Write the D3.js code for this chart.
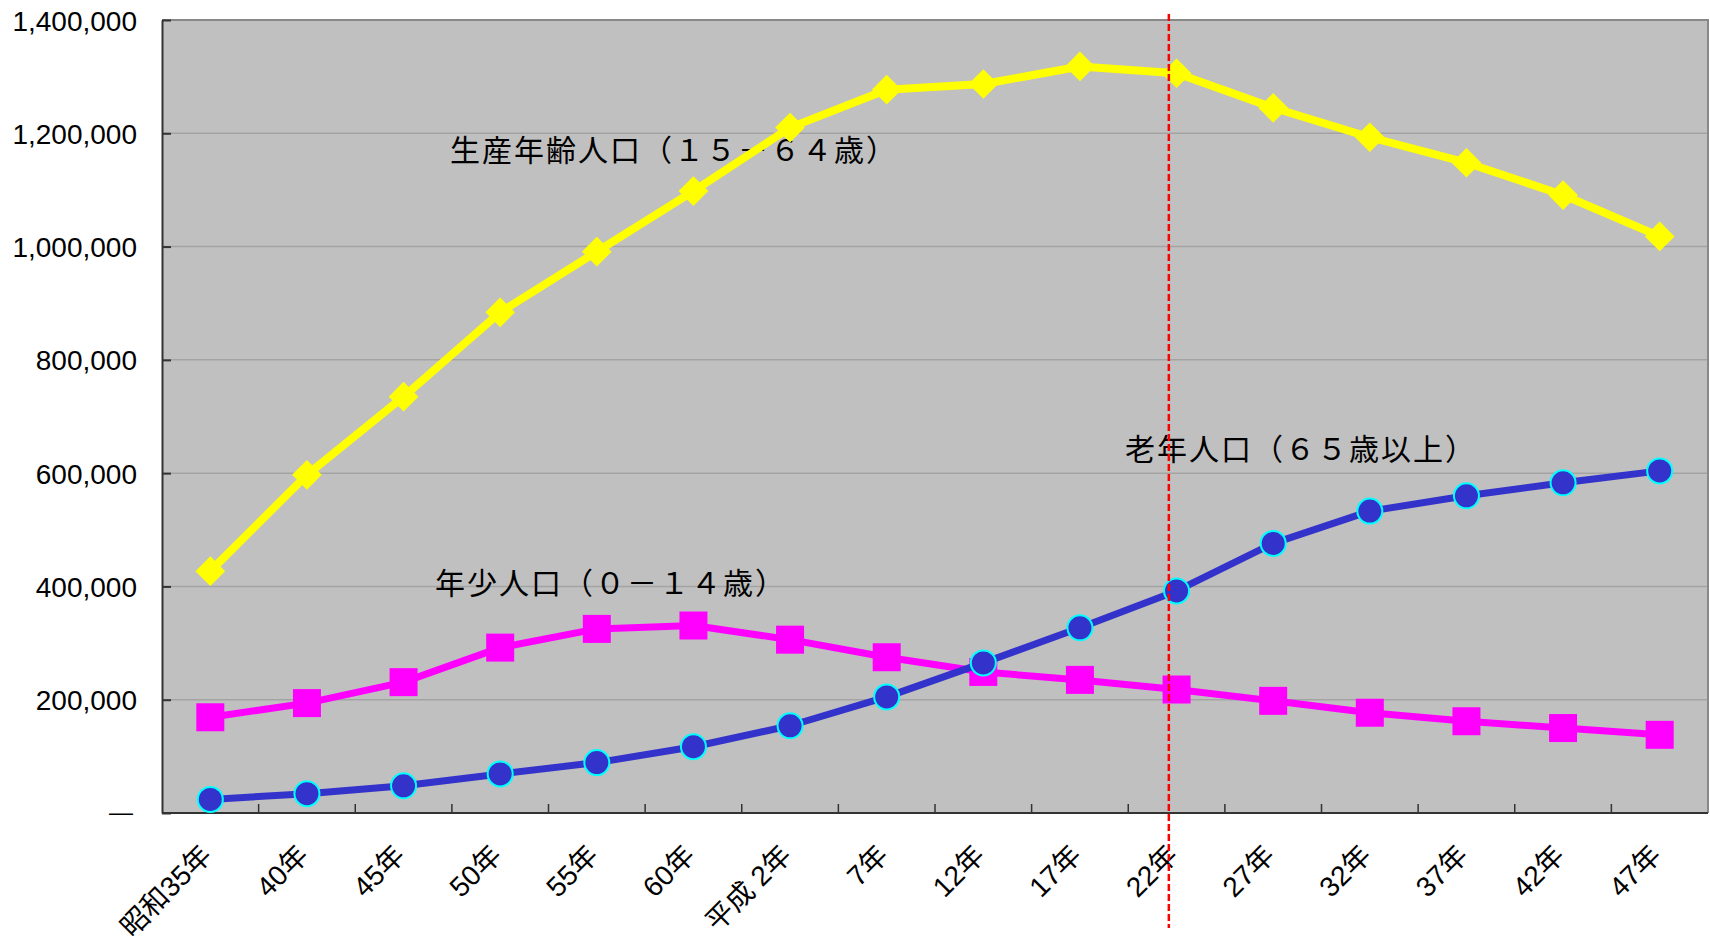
<!DOCTYPE html>
<html lang="ja">
<head>
<meta charset="utf-8">
<script src="https://cdn.jsdelivr.net/npm/d3@7"></script>
<style>
  html, body { margin: 0; padding: 0; background: #ffffff; }
  svg { display: block; }
  text { font-family: "Liberation Sans", "Noto Sans CJK JP", sans-serif; fill: #000; }
  .note { font-family: "Noto Sans CJK JP", sans-serif; font-size: 30px; letter-spacing: 2px; }
</style>
</head>
<body>
<svg id="chart" width="1710" height="940"></svg>
<script>
// Population by age group (persons), survey years 昭和35年 to 47年 (projection)
const categories = ["昭和35年", "40年", "45年", "50年", "55年", "60年", "平成 2年", "7年",
                    "12年", "17年", "22年", "27年", "32年", "37年", "42年", "47年"];
const workingAge = [427000, 597000, 735000, 884000, 991000, 1098000, 1210000, 1277000,
                    1287000, 1318000, 1306000, 1245000, 1193000, 1148000, 1091000, 1018000];
const youth      = [169000, 194000, 231000, 292000, 325000, 331000, 306000, 275000,
                    249000, 235000, 218000, 198000, 177000, 162000, 150000, 138000];
const elderly    = [24000, 34000, 48000, 69000, 89000, 117000, 154000, 205000,
                    265000, 327000, 392000, 476000, 533000, 560000, 583000, 604000];
const yTicks = [0, 200000, 400000, 600000, 800000, 1000000, 1200000, 1400000];
const seriesNames = ["生産年齢人口（１５－６４歳）", "年少人口（０－１４歳）", "老年人口（６５歳以上）"];
const dividerCategory = "22年";

const svg = d3.select("#chart");
const plot = { left: 162, right: 1708, top: 20, bottom: 813 };

const x = d3.scaleBand().domain(categories).range([plot.left, plot.right]).padding(0);
const y = d3.scaleLinear().domain([0, 1400000]).range([plot.bottom, plot.top]);
const cx = c => x(c) + x.bandwidth() / 2;

// plot background
svg.append("rect")
  .attr("x", plot.left).attr("y", plot.top)
  .attr("width", plot.right - plot.left).attr("height", plot.bottom - plot.top)
  .attr("fill", "#c0c0c0");

// horizontal gridlines
svg.append("g").selectAll("line")
  .data(yTicks.filter(v => v > 0 && v < 1400000))
  .join("line")
  .attr("x1", plot.left).attr("x2", plot.right)
  .attr("y1", d => y(d)).attr("y2", d => y(d))
  .attr("stroke", "#a3a3a3").attr("stroke-width", 1.5);

// top and right frame
svg.append("path")
  .attr("d", `M${plot.left},${plot.top}H${plot.right}V${plot.bottom}`)
  .attr("fill", "none").attr("stroke", "#888").attr("stroke-width", 2);

// y axis
const yAxis = d3.axisLeft(y)
  .tickValues(yTicks)
  .tickSizeInner(-9).tickSizeOuter(0).tickPadding(25)
  .tickFormat(d => d === 0 ? "—" : d3.format(",")(d));
const gy = svg.append("g").attr("transform", `translate(${plot.left},0)`).call(yAxis);
gy.select(".domain").attr("stroke", "#333").attr("stroke-width", 2);
gy.selectAll(".tick line").attr("stroke", "#333").attr("stroke-width", 2);
gy.selectAll(".tick text")
  .attr("font-family", "Liberation Sans, sans-serif")
  .attr("font-size", 28).attr("fill", "#000").attr("dy", "0.36em");
gy.selectAll(".tick text").filter(d => d === 0)
  .attr("font-size", 24).attr("dy", "0.27em").attr("x", -29);

// x axis line and tick marks at category boundaries
svg.append("line")
  .attr("x1", plot.left).attr("x2", plot.right)
  .attr("y1", plot.bottom).attr("y2", plot.bottom)
  .attr("stroke", "#333").attr("stroke-width", 2);
svg.append("g").selectAll("line")
  .data(categories.slice(1))
  .join("line")
  .attr("x1", d => x(d)).attr("x2", d => x(d))
  .attr("y1", plot.bottom).attr("y2", plot.bottom - 9)
  .attr("stroke", "#333").attr("stroke-width", 1.5);

// rotated category labels
svg.append("g").selectAll("text")
  .data(categories)
  .join("text")
  .attr("transform", d => `translate(${cx(d) + 3},${857}) rotate(-45)`)
  .attr("text-anchor", "end")
  .attr("font-size", 28)
  .text(d => d);

// series annotations
svg.append("text").attr("class", "note").attr("x", 450).attr("y", 161).text(seriesNames[0]);
svg.append("text").attr("class", "note").attr("x", 435).attr("y", 594).text(seriesNames[1]);
svg.append("text").attr("class", "note").attr("x", 1125).attr("y", 460).text(seriesNames[2]);

const line = d3.line().x((d, i) => cx(categories[i])).y(d => y(d));

// 年少人口: magenta squares
svg.append("path").datum(youth)
  .attr("d", line).attr("fill", "none")
  .attr("stroke", "#ff00ff").attr("stroke-width", 7).attr("stroke-linejoin", "round");
svg.append("g").selectAll("path")
  .data(youth).join("path")
  .attr("d", d3.symbol(d3.symbolSquare, 28 * 28))
  .attr("transform", (d, i) => `translate(${cx(categories[i])},${y(d)})`)
  .attr("fill", "#ff00ff");

// 老年人口: blue circles with cyan outline
svg.append("path").datum(elderly)
  .attr("d", line).attr("fill", "none")
  .attr("stroke", "#3333cc").attr("stroke-width", 7).attr("stroke-linejoin", "round");
svg.append("g").selectAll("circle")
  .data(elderly).join("circle")
  .attr("cx", (d, i) => cx(categories[i])).attr("cy", d => y(d))
  .attr("r", 12.5)
  .attr("fill", "#3333cc").attr("stroke", "#00ffff").attr("stroke-width", 2);

// 生産年齢人口: yellow diamonds
svg.append("path").datum(workingAge)
  .attr("d", line).attr("fill", "none")
  .attr("stroke", "#ffff00").attr("stroke-width", 8).attr("stroke-linejoin", "round");
svg.append("g").selectAll("path")
  .data(workingAge).join("path")
  .attr("d", d3.symbol(d3.symbolSquare, 21 * 21))
  .attr("transform", (d, i) => `translate(${cx(categories[i])},${y(d)}) rotate(45)`)
  .attr("fill", "#ffff00");

// dashed divider between actual and projected figures
const dividerX = x(dividerCategory) + x.bandwidth() * 0.42;
svg.append("line")
  .attr("x1", dividerX).attr("x2", dividerX)
  .attr("y1", 14).attr("y2", 928)
  .attr("stroke", "#ff0000").attr("stroke-width", 2.5)
  .attr("stroke-dasharray", "7,3");
</script>
</body>
</html>
